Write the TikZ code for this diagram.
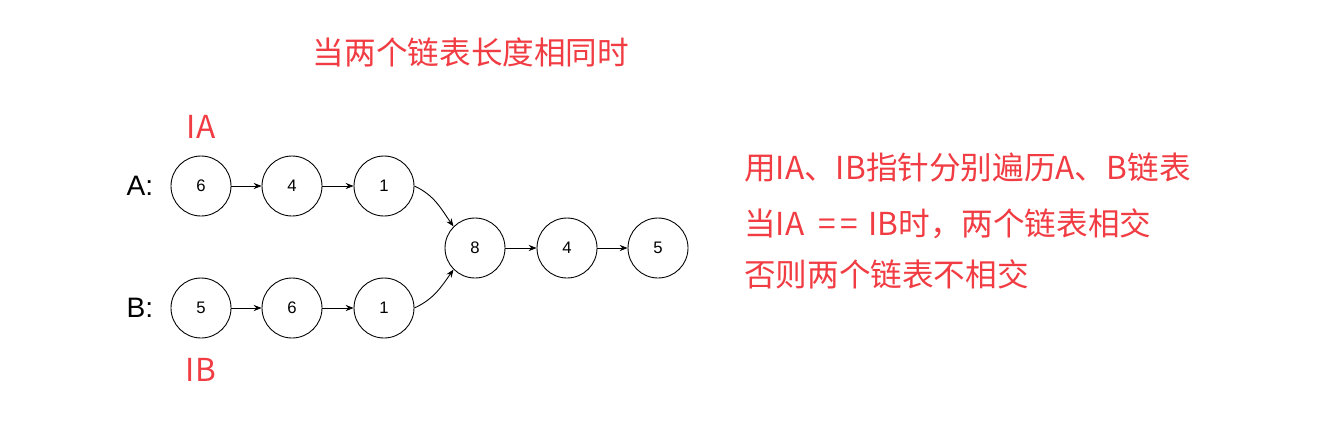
\documentclass[tikz,border=0pt]{standalone}
\usepackage{fontspec}
\setmainfont{Liberation Sans}
\newfontfamily\cjk{Noto Sans CJK SC}
\usetikzlibrary{arrows.meta}
\definecolor{redtxt}{RGB}{240,60,66}
\begin{document}
\begin{tikzpicture}[x=0.02cm,y=-0.02cm,
  elem/.style={draw, circle, minimum size=1.2cm, inner sep=0pt, line width=0.5pt, font=\fontsize{9.5}{11}\selectfont},
  link/.style={-{Stealth[length=4.5pt,width=3.5pt]}, line width=0.5pt},
  note/.style={color=redtxt, font=\cjk\fontsize{18}{22}\selectfont}]
\useasboundingbox (0,0) rectangle (1331,420);

\node[note] (title) at (471,52) {当两个链表长度相同时};

\node[draw, elem] (a1) at (201,186) {6};
\node[draw, elem] (a2) at (292,186) {4};
\node[draw, elem] (a3) at (384,186) {1};
\node[draw, elem] (b1) at (201,308) {5};
\node[draw, elem] (b2) at (292,308) {6};
\node[draw, elem] (b3) at (384,308) {1};
\node[draw, elem] (c1) at (475,248) {8};
\node[draw, elem] (c2) at (567,248) {4};
\node[draw, elem] (c3) at (658,248) {5};

\node[font=\fontsize{16}{19}\selectfont] (la) at (140,186) {A:};
\node[font=\fontsize{16}{19}\selectfont] (lb) at (140,308) {B:};
\node[note] (pa) at (201,127) {IA};
\node[note] (pb) at (201,370) {IB};

\path[draw,link] (a1) -- (a2);
\path[draw,link] (a2) -- (a3);
\path[draw,link] (b1) -- (b2);
\path[draw,link] (b2) -- (b3);
\path[draw,link] (c1) -- (c2);
\path[draw,link] (c2) -- (c3);
\path[draw,link] (a3.east) to[out=-25,in=125] (c1.north west);
\path[draw,link] (b3.east) to[out=25,in=-125] (c1.south west);

\node[note, anchor=west] (t1) at (738,168) {用IA、IB指针分别遍历A、B链表};
\node[note, anchor=west] (t2) at (738,224) {当IA\hspace{8pt}=\hspace{2.5pt}=\hspace{6pt}IB时，两个链表相交};
\node[note, anchor=west] (t3) at (738,274) {否则两个链表不相交};
\end{tikzpicture}
\end{document}
